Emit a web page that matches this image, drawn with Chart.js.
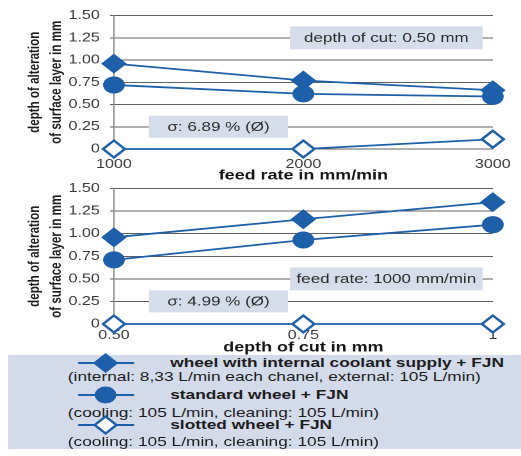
<!DOCTYPE html>
<html>
<head>
<meta charset="utf-8">
<script src="https://cdn.jsdelivr.net/npm/chart.js@4.4.1/dist/chart.umd.min.js"></script>
<style>
  html, body { margin: 0; padding: 0; background: #fff; width: 521px; height: 456px; overflow: hidden; }
  /* the whole figure is laid out 407px wide and stretched to 521px */
  #page { position: absolute; left: 0; top: 0; width: 407px; height: 456px;
          transform: scaleX(1.28); transform-origin: 0 0;
          font-family: "Liberation Sans", Arial, sans-serif; }
  canvas { position: absolute; left: 0; }
  #c1 { top: 0; }
  #c2 { top: 173px; }
  #legend { position: absolute; left: 6px; top: 355px; width: 401px; height: 94px; background: #d3dbea; }
  #legend .ln { position: absolute; white-space: nowrap; color: #1c1c1c; line-height: 16px; height: 16px; }
  #legend .name { font-weight: bold; font-size: 13.5px; left: 127px; }
  #legend .note { font-size: 13.5px; left: 47px; }
  #legend svg { position: absolute; left: 55px; }
</style>
</head>
<body>
<div id="page">
  <canvas id="c1" width="407" height="184"></canvas>
  <canvas id="c2" width="407" height="183"></canvas>
  <div id="legend"></div>
</div>
<script>
// ---- data ----
const feedRates = ['1000', '2000', '3000'];          // mm/min, at depth of cut 0.50 mm
const cutDepths = ['0.50', '0.75', '1'];              // mm, at feed rate 1000 mm/min
const yTicks = [0, 0.25, 0.5, 0.75, 1.0, 1.25, 1.5];
const yTickLabels = ['0', '0.25', '0.50', '0.75', '1.00', '1.25', '1.50'];

const seriesNames = [
  'wheel with internal coolant supply + FJN',
  'standard wheel + FJN',
  'slotted wheel + FJN'
];
const seriesNotes = [
  '(internal: 8,33 L/min each chanel, external: 105 L/min)',
  '(cooling: 105 L/min, cleaning: 105 L/min)',
  '(cooling: 105 L/min, cleaning: 105 L/min)'
];

// depth of alteration vs. feed rate
const internalByFeed = [0.96, 0.77, 0.66];
const standardByFeed = [0.72, 0.62, 0.59];
const slottedByFeed  = [0, 0, 0.11];

// depth of alteration vs. depth of cut
const internalByDepth = [0.96, 1.16, 1.35];
const standardByDepth = [0.71, 0.93, 1.10];
const slottedByDepth  = [0, 0, 0];

// ---- styling ----
const BLUE = '#1d5fa9';
const FONT = '"Liberation Sans", Arial, sans-serif';
const seriesStyles = [
  { pointStyle: 'rectRot', pointRadius: 9.3, backgroundColor: BLUE, pointBorderWidth: 1 },
  { pointStyle: 'circle',  pointRadius: 8,   backgroundColor: BLUE, pointBorderWidth: 1 },
  { pointStyle: 'rectRot', pointRadius: 8.5, backgroundColor: '#ffffff', pointBorderWidth: 2.2 }
];

function makeDatasets(values) {
  return values.map((vals, i) => ({
    label: seriesNames[i],
    data: vals,
    borderColor: BLUE,
    borderWidth: 1.8,
    pointStyle: seriesStyles[i].pointStyle,
    pointRadius: seriesStyles[i].pointRadius,
    pointHoverRadius: seriesStyles[i].pointRadius,
    pointBackgroundColor: seriesStyles[i].backgroundColor,
    pointBorderColor: BLUE,
    pointBorderWidth: seriesStyles[i].pointBorderWidth,
    tension: 0,
    clip: false
  }));
}

// shaded text boxes placed on the value axis
const noteBoxes = {
  id: 'noteBoxes',
  beforeDatasetsDraw(chart, args, opts) {
    const { ctx, chartArea, scales } = chart;
    ctx.save();
    ctx.font = opts.font;
    ctx.textAlign = 'center';
    ctx.textBaseline = 'middle';
    for (const b of opts.boxes) {
      const cx = chartArea.left + b.xFrac * (chartArea.right - chartArea.left);
      const cy = scales.y.getPixelForValue(b.yValue);
      ctx.fillStyle = opts.fill;
      ctx.fillRect(cx - b.w / 2, cy - b.h / 2, b.w, b.h);
      ctx.fillStyle = opts.color;
      ctx.fillText(b.text, cx, cy + 0.5);
    }
    ctx.restore();
  }
};

function makeChart(canvasId, labels, values, xTitle, boxes, xHeight, xPad) {
  return new Chart(document.getElementById(canvasId), {
    type: 'line',
    data: { labels, datasets: makeDatasets(values) },
    plugins: [noteBoxes],
    options: {
      responsive: false,
      animation: false,
      devicePixelRatio: 2,
      layout: { padding: { top: 14, right: 22, left: 0, bottom: 0 } },
      plugins: {
        legend: { display: false },
        tooltip: { enabled: false },
        noteBoxes: { boxes, fill: '#d5ddeb', color: '#2a2a2a', font: '13.3px ' + FONT }
      },
      scales: {
        x: {
          type: 'category',
          offset: false,
          afterFit(s) { s.height = xHeight; },
          grid: { display: false, drawTicks: false },
          border: { display: false },
          ticks: { autoSkip: false, maxRotation: 0, padding: xPad, color: '#3a3a3a',
                   font: { family: FONT, size: 12.6 } },
          title: { display: true, text: xTitle, color: '#161616', padding: 0,
                   font: { family: FONT, size: 14, weight: 'bold', lineHeight: 1.2 } }
        },
        y: {
          min: 0, max: 1.5,
          afterFit(s) { s.width = 89; },
          afterBuildTicks(s) { s.ticks = yTicks.map(v => ({ value: v })); },
          grid: { color: '#606060', lineWidth: 1, tickLength: 3 },
          border: { display: true, color: '#8a8a8a', width: 1 },
          ticks: { padding: 8, color: '#3a3a3a', callback: (v, i) => yTickLabels[i],
                   font: { family: FONT, size: 12.6 } },
          title: { display: true, text: ['depth of alteration', 'of surface layer in mm'],
                   color: '#1e1e1e', padding: { top: 18.7, bottom: 0 },
                   font: { family: FONT, size: 11.6, weight: 'bold', lineHeight: 1.48 } }
        }
      }
    }
  });
}

makeChart('c1', feedRates, [internalByFeed, standardByFeed, slottedByFeed],
  'feed rate in mm/min',
  [
    { text: 'depth of cut: 0.50 mm', yValue: 1.25, xFrac: 0.719, w: 150.5, h: 23 },
    { text: 'σ: 6.89 % (Ø)',        yValue: 0.25, xFrac: 0.276, w: 108.6, h: 22 }
  ], 35, 8);

makeChart('c2', cutDepths, [internalByDepth, standardByDepth, slottedByDepth],
  'depth of cut in mm',
  [
    { text: 'feed rate: 1000 mm/min', yValue: 0.5,  xFrac: 0.719, w: 150.5, h: 23 },
    { text: 'σ: 4.99 % (Ø)',          yValue: 0.25, xFrac: 0.276, w: 108.6, h: 22 }
  ], 32, 4);

// ---- legend ----
const legendRows = [
  { icon: 8,  note: 22 },
  { icon: 40, note: 58 },
  { icon: 70, note: 87 }
];
const legend = document.getElementById('legend');
seriesNames.forEach((name, i) => {
  const st = seriesStyles[i];
  const cy = legendRows[i].icon;
  const svgNS = 'http://www.w3.org/2000/svg';
  const svg = document.createElementNS(svgNS, 'svg');
  svg.setAttribute('width', 44);
  svg.setAttribute('height', 22);
  svg.style.top = (cy - 11) + 'px';
  const line = document.createElementNS(svgNS, 'line');
  line.setAttribute('x1', 0); line.setAttribute('x2', 44);
  line.setAttribute('y1', 11); line.setAttribute('y2', 11);
  line.setAttribute('stroke', BLUE); line.setAttribute('stroke-width', 1.8);
  svg.appendChild(line);
  let mark;
  if (st.pointStyle === 'circle') {
    mark = document.createElementNS(svgNS, 'circle');
    mark.setAttribute('cx', 21.5); mark.setAttribute('cy', 11); mark.setAttribute('r', st.pointRadius);
  } else {
    const r = st.pointRadius;
    mark = document.createElementNS(svgNS, 'polygon');
    mark.setAttribute('points', `${21.5 - r},11 21.5,${11 - r} ${21.5 + r},11 21.5,${11 + r}`);
  }
  mark.setAttribute('fill', st.backgroundColor);
  mark.setAttribute('stroke', BLUE);
  mark.setAttribute('stroke-width', st.pointBorderWidth);
  svg.appendChild(mark);
  legend.appendChild(svg);

  const nameEl = document.createElement('div');
  nameEl.className = 'ln name';
  nameEl.style.top = (cy - 8) + 'px';
  nameEl.textContent = name;
  legend.appendChild(nameEl);

  const noteEl = document.createElement('div');
  noteEl.className = 'ln note';
  noteEl.style.top = (legendRows[i].note - 8) + 'px';
  noteEl.textContent = seriesNotes[i];
  legend.appendChild(noteEl);
});
</script>
</body>
</html>
